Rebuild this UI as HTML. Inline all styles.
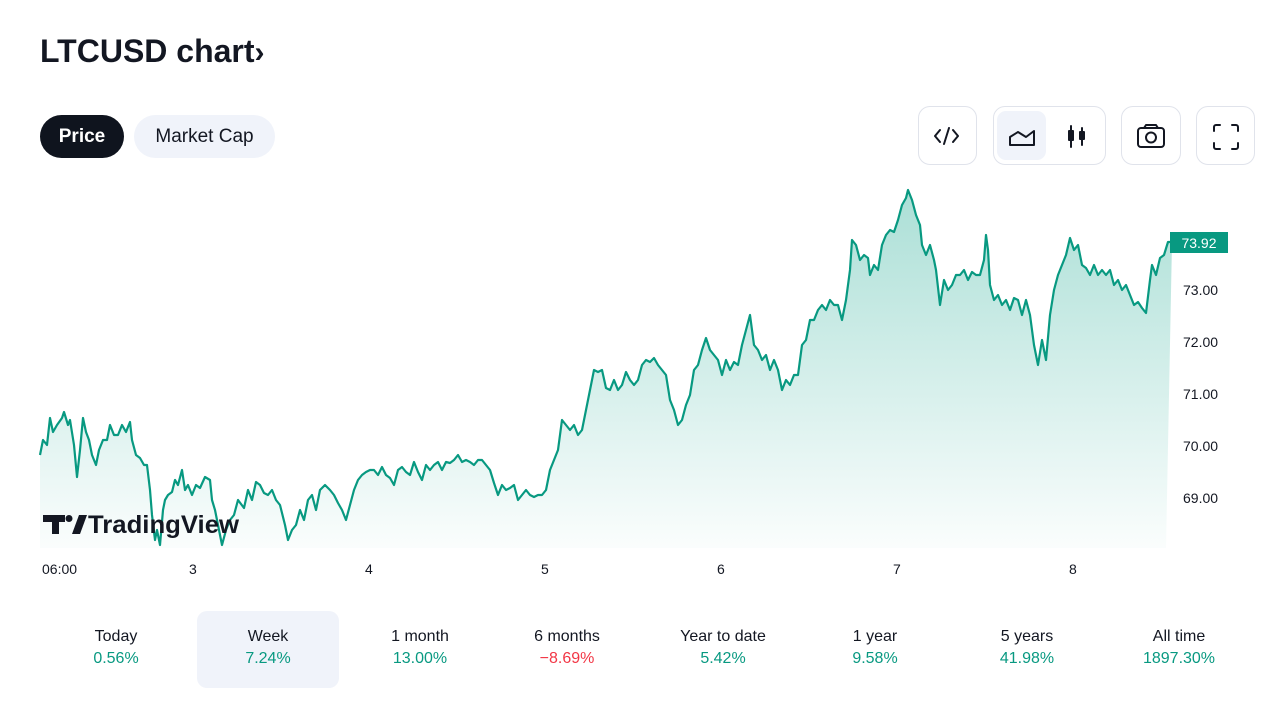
<!DOCTYPE html>
<html><head><meta charset="utf-8">
<style>
*{margin:0;padding:0;box-sizing:border-box}
body{width:1280px;height:720px;background:#fff;font-family:"Liberation Sans",sans-serif;color:#131722;position:relative;overflow:hidden}
.abs{position:absolute}
h1{position:absolute;left:40px;top:33px;font-size:32px;font-weight:bold;letter-spacing:0px}
.pill{position:absolute;top:115px;height:43px;border-radius:22px;font-size:19px;line-height:43px;text-align:center}
.box{position:absolute;top:106px;height:59px;border:1px solid #e0e3eb;border-radius:12px}
.per{position:absolute;top:611px;width:142px;height:77px;text-align:center;font-size:16px;padding-top:17px}
.per b{display:block;font-weight:normal;color:#089981;margin-top:4px}
.yl{position:absolute;left:1183px;font-size:14px;color:#131722}
.xl{position:absolute;top:561px;font-size:14px;color:#131722}
</style></head><body>
<h1>LTCUSD chart<span style="font-size:30px">›</span></h1>
<div class="pill" style="left:40px;width:84px;background:#0f141e;color:#fff;font-weight:bold">Price</div>
<div class="pill" style="left:134px;width:141px;background:#f0f3fa;color:#131722">Market Cap</div>

<div class="box" style="left:918px;width:59px"></div>
<div class="box" style="left:993px;width:113px"></div>
<div class="abs" style="left:997px;top:111px;width:49px;height:49px;background:#f0f3fa;border-radius:9px"></div>
<div class="box" style="left:1121px;width:60px"></div>
<div class="box" style="left:1196px;width:59px"></div>
<svg class="abs" style="left:0;top:0" width="1280" height="720" fill="none" stroke="#131722" stroke-width="2" stroke-linecap="round" stroke-linejoin="round">
<path d="M940 130l-5 6 5 6M953 130l5 6-5 6M949 128l-5 16"/>
<path d="M1010 145v-8l8-5 8 5 8-6v14z"/>
<path d="M1071 126v21M1069 131h4v9h-4zM1082 128v17M1080 132h4v7h-4z"/>
<rect x="1138" y="128" width="26" height="19" rx="3"/><circle cx="1151" cy="137.5" r="5"/><path d="M1144 128l2-3h10l2 3"/>
<path d="M1214 131v-4a2 2 0 0 1 2-2h4M1232 125h4a2 2 0 0 1 2 2v4M1238 143v4a2 2 0 0 1-2 2h-4M1220 149h-4a2 2 0 0 1-2-2v-4"/>
</svg>

<svg class="abs" style="left:0;top:0" width="1280" height="600">
<defs><linearGradient id="g" x1="0" y1="190" x2="0" y2="548" gradientUnits="userSpaceOnUse">
<stop offset="0" stop-color="#22ab94" stop-opacity="0.38"/><stop offset="1" stop-color="#22ab94" stop-opacity="0.02"/></linearGradient></defs>
<path fill="url(#g)" stroke="none" d="M40 455L43 440L47 445L50 418L53 432L57 425L62 418L64 412L68 425L70 420L74 445L77 477L80 450L83 418L86 432L89 440L92 455L96 465L99 450L103 440L107 440L110 425L114 435L118 435L122 425L126 432L130 422L132 440L136 455L140 458L144 465L147 465L150 490L152 515L155 540L157 530L160 545L163 510L165 500L168 495L172 492L175 480L178 485L182 470L185 490L188 485L192 495L196 485L200 488L205 477L210 480L212 500L215 510L218 525L222 545L226 530L230 520L234 515L238 500L244 508L248 490L252 500L256 482L260 485L264 493L268 495L272 490L276 500L280 505L285 525L288 540L292 530L296 525L300 510L304 520L308 500L312 495L316 510L320 490L325 485L330 490L334 495L338 503L342 510L346 520L350 505L354 490L358 480L362 475L366 472L370 470L374 470L378 475L382 467L386 475L390 478L394 485L398 470L402 467L406 472L410 475L414 462L418 472L422 480L426 465L430 470L434 465L438 462L442 470L446 462L450 463L454 460L458 455L462 462L466 460L470 462L474 465L478 460L482 460L486 465L490 470L494 483L498 495L502 485L506 490L510 488L514 485L518 500L522 495L526 490L530 495L534 497L538 495L542 495L546 490L550 470L554 460L558 450L562 420L566 425L570 430L574 425L578 435L582 430L586 410L590 390L594 370L598 372L602 370L606 388L610 390L614 380L618 390L622 385L626 372L630 380L634 385L638 380L642 365L646 360L650 362L654 358L658 365L662 370L666 375L670 400L674 410L678 425L682 420L686 405L690 395L694 370L698 365L702 350L706 338L710 350L714 355L718 360L722 375L726 360L730 370L734 362L738 365L742 345L746 330L750 315L754 345L758 350L762 360L766 355L770 370L774 360L778 370L782 390L786 380L790 385L794 375L798 375L802 345L806 340L810 320L814 320L818 310L822 305L826 310L830 300L834 305L838 305L842 320L846 300L850 270L852 240L856 245L860 260L864 255L868 258L870 275L874 265L878 270L882 245L886 235L890 230L894 232L898 220L902 205L906 198L908 190L912 200L916 215L920 225L922 245L926 255L930 245L934 260L936 270L940 305L944 280L948 290L952 285L956 275L960 275L964 270L968 280L972 272L976 275L980 275L984 260L986 235L988 250L990 285L994 300L998 295L1002 305L1006 300L1010 310L1014 298L1018 300L1022 315L1026 300L1030 315L1034 345L1038 365L1042 340L1046 360L1050 315L1054 290L1058 275L1062 265L1066 255L1070 238L1074 250L1078 245L1082 265L1086 268L1090 275L1094 265L1098 275L1102 270L1106 275L1110 270L1114 285L1118 280L1122 290L1126 285L1130 295L1134 305L1138 302L1142 308L1146 313L1150 280L1152 265L1156 275L1160 258L1164 255L1168 242L1172 242L1166 548L40 548Z"/>
<path fill="none" stroke="#089981" stroke-width="2.2" stroke-linejoin="round" d="M40 455L43 440L47 445L50 418L53 432L57 425L62 418L64 412L68 425L70 420L74 445L77 477L80 450L83 418L86 432L89 440L92 455L96 465L99 450L103 440L107 440L110 425L114 435L118 435L122 425L126 432L130 422L132 440L136 455L140 458L144 465L147 465L150 490L152 515L155 540L157 530L160 545L163 510L165 500L168 495L172 492L175 480L178 485L182 470L185 490L188 485L192 495L196 485L200 488L205 477L210 480L212 500L215 510L218 525L222 545L226 530L230 520L234 515L238 500L244 508L248 490L252 500L256 482L260 485L264 493L268 495L272 490L276 500L280 505L285 525L288 540L292 530L296 525L300 510L304 520L308 500L312 495L316 510L320 490L325 485L330 490L334 495L338 503L342 510L346 520L350 505L354 490L358 480L362 475L366 472L370 470L374 470L378 475L382 467L386 475L390 478L394 485L398 470L402 467L406 472L410 475L414 462L418 472L422 480L426 465L430 470L434 465L438 462L442 470L446 462L450 463L454 460L458 455L462 462L466 460L470 462L474 465L478 460L482 460L486 465L490 470L494 483L498 495L502 485L506 490L510 488L514 485L518 500L522 495L526 490L530 495L534 497L538 495L542 495L546 490L550 470L554 460L558 450L562 420L566 425L570 430L574 425L578 435L582 430L586 410L590 390L594 370L598 372L602 370L606 388L610 390L614 380L618 390L622 385L626 372L630 380L634 385L638 380L642 365L646 360L650 362L654 358L658 365L662 370L666 375L670 400L674 410L678 425L682 420L686 405L690 395L694 370L698 365L702 350L706 338L710 350L714 355L718 360L722 375L726 360L730 370L734 362L738 365L742 345L746 330L750 315L754 345L758 350L762 360L766 355L770 370L774 360L778 370L782 390L786 380L790 385L794 375L798 375L802 345L806 340L810 320L814 320L818 310L822 305L826 310L830 300L834 305L838 305L842 320L846 300L850 270L852 240L856 245L860 260L864 255L868 258L870 275L874 265L878 270L882 245L886 235L890 230L894 232L898 220L902 205L906 198L908 190L912 200L916 215L920 225L922 245L926 255L930 245L934 260L936 270L940 305L944 280L948 290L952 285L956 275L960 275L964 270L968 280L972 272L976 275L980 275L984 260L986 235L988 250L990 285L994 300L998 295L1002 305L1006 300L1010 310L1014 298L1018 300L1022 315L1026 300L1030 315L1034 345L1038 365L1042 340L1046 360L1050 315L1054 290L1058 275L1062 265L1066 255L1070 238L1074 250L1078 245L1082 265L1086 268L1090 275L1094 265L1098 275L1102 270L1106 275L1110 270L1114 285L1118 280L1122 290L1126 285L1130 295L1134 305L1138 302L1142 308L1146 313L1150 280L1152 265L1156 275L1160 258L1164 255L1168 242L1172 242"/>
<rect x="1170" y="232" width="58" height="21" fill="#089981"/>
<text x="1199" y="248" fill="#fff" font-size="14" text-anchor="middle" font-family="Liberation Sans, sans-serif">73.92</text>
<g fill="#131722">
<path d="M43 515h22v7h-6v12h-7v-12h-9z"/><circle cx="69" cy="518.5" r="3.5"/><path d="M72 534l7-19h8l-7 19z"/>
</g>
<text x="88" y="533" fill="#131722" font-size="25" font-weight="bold" font-family="Liberation Sans, sans-serif" textLength="151" lengthAdjust="spacingAndGlyphs">TradingView</text>
</svg>

<div class="yl" style="top:282px">73.00</div>
<div class="yl" style="top:334px">72.00</div>
<div class="yl" style="top:386px">71.00</div>
<div class="yl" style="top:438px">70.00</div>
<div class="yl" style="top:490px">69.00</div>

<div class="xl" style="left:42px">06:00</div>
<div class="xl" style="left:189px">3</div>
<div class="xl" style="left:365px">4</div>
<div class="xl" style="left:541px">5</div>
<div class="xl" style="left:717px">6</div>
<div class="xl" style="left:893px">7</div>
<div class="xl" style="left:1069px">8</div>

<div class="per" style="left:45px">Today<b>0.56%</b></div>
<div class="per" style="left:197px;background:#f0f3fa;border-radius:10px">Week<b>7.24%</b></div>
<div class="per" style="left:349px">1 month<b>13.00%</b></div>
<div class="per" style="left:496px">6 months<b style="color:#f23645">−8.69%</b></div>
<div class="per" style="left:652px">Year to date<b>5.42%</b></div>
<div class="per" style="left:804px">1 year<b>9.58%</b></div>
<div class="per" style="left:956px">5 years<b>41.98%</b></div>
<div class="per" style="left:1108px">All time<b>1897.30%</b></div>
</body></html>
